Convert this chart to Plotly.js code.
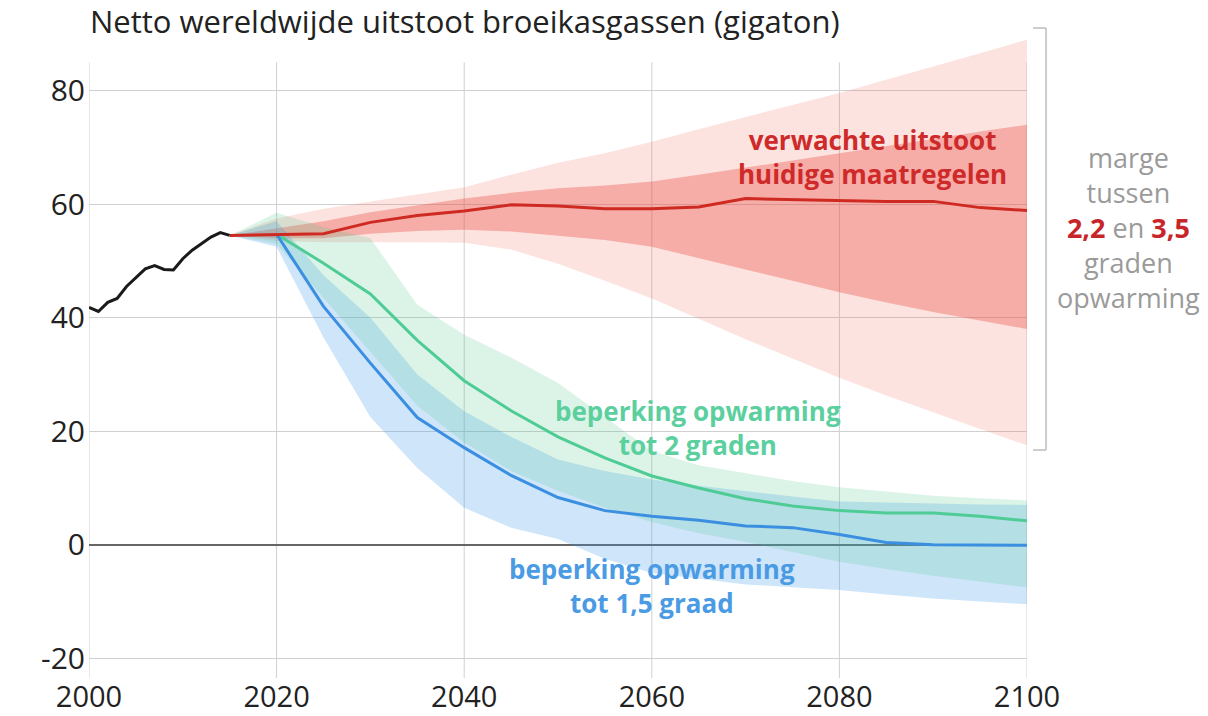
<!DOCTYPE html>
<html>
<head>
<meta charset="utf-8">
<script src="https://cdn.plot.ly/plotly-3.0.1.min.js"></script>
<style>
  html, body { margin: 0; padding: 0; background: #ffffff; }
  #chart { width: 1208px; height: 716px; }
</style>
</head>
<body>
<div id="chart"></div>
<script>
// ---------- data ----------
const histYears  = [2000, 2001, 2002, 2003, 2004, 2005, 2006, 2007, 2008, 2009, 2010, 2011, 2012, 2013, 2014, 2015];
const histValues = [41.8, 41.1, 42.7, 43.4, 45.5, 47.0, 48.6, 49.2, 48.5, 48.4, 50.4, 51.9, 53.1, 54.2, 55.0, 54.5];

const projYears = [2015, 2020, 2025, 2030, 2035, 2040, 2045, 2050, 2055, 2060, 2065, 2070, 2075, 2080, 2085, 2090, 2095, 2100];

// current policies (verwachte uitstoot huidige maatregelen)
const currentMedian     = [54.5, 54.7, 54.8, 56.8, 58.0, 58.8, 59.9, 59.7, 59.2, 59.2, 59.5, 61.0, 60.8, 60.6, 60.5, 60.5, 59.4, 58.9];
const currentInnerUpper = [54.5, 55.8, 57.0, 58.6, 59.8, 61.0, 62.0, 62.8, 63.3, 64.0, 65.2, 66.4, 67.7, 69.0, 70.2, 71.5, 72.8, 74.0];
const currentInnerLower = [54.5, 54.0, 54.0, 54.8, 55.3, 55.5, 55.2, 54.5, 53.7, 52.5, 50.6, 48.5, 46.5, 44.5, 42.7, 41.0, 39.5, 38.0];
const currentOuterUpper = [54.5, 57.5, 59.2, 60.5, 61.7, 63.0, 65.2, 67.3, 69.0, 71.0, 73.2, 75.4, 77.5, 79.6, 81.9, 84.2, 86.6, 89.0];
const currentOuterLower = [54.5, 53.5, 53.3, 53.3, 53.3, 53.2, 52.0, 49.5, 46.5, 43.4, 39.8, 36.2, 32.8, 29.4, 26.3, 23.3, 20.4, 17.5];

// 2 degrees pathway
const twoDegMedian = [null, 54.7, 49.6, 44.2, 36.0, 28.9, 23.6, 19.0, 15.3, 12.1, 10.0, 8.1, 6.8, 6.0, 5.6, 5.6, 5.0, 4.2];
const twoDegUpper  = [54.5, 58.5, 56.0, 54.0, 42.3, 37.0, 33.0, 28.5, 22.5, 16.5, 14.0, 12.6, 11.2, 10.1, 9.3, 8.6, 8.2, 7.8];
const twoDegLower  = [54.5, 53.0, 43.5, 34.0, 24.5, 18.0, 13.0, 9.5, 6.5, 4.0, 2.0, 0.5, -1.3, -3.0, -4.3, -5.5, -6.5, -7.5];

// 1.5 degree pathway
const oneFiveMedian = [null, 54.7, 42.0, 32.0, 22.4, 17.1, 12.2, 8.3, 6.0, 5.0, 4.3, 3.3, 3.0, 1.8, 0.4, 0.0, 0.0, -0.1];
const oneFiveUpper  = [54.5, 57.0, 47.5, 40.0, 30.0, 23.5, 19.0, 15.0, 13.0, 11.5, 10.4, 9.4, 8.5, 7.6, 7.4, 7.2, 7.1, 7.0];
const oneFiveLower  = [54.5, 52.5, 36.5, 22.5, 13.5, 6.5, 3.0, 1.0, -2.5, -5.0, -6.0, -7.0, -7.5, -8.0, -8.8, -9.5, -10.0, -10.5];

const xTickVals = [2000, 2020, 2040, 2060, 2080, 2100];
const yTickVals = [-20, 0, 20, 40, 60, 80];

// ---------- helpers ----------
function band(upper, lower, color) {
  return {
    type: 'scatter', mode: 'lines',
    x: projYears.concat(projYears.slice().reverse()),
    y: upper.concat(lower.slice().reverse()),
    fill: 'toself', fillcolor: color,
    line: { width: 0, color: 'rgba(0,0,0,0)' },
    hoverinfo: 'skip', showlegend: false
  };
}
function line(x, y, color, width) {
  return {
    type: 'scatter', mode: 'lines', x: x, y: y,
    line: { color: color, width: width, shape: 'linear' },
    hoverinfo: 'skip', showlegend: false
  };
}

const FONT = 'Open Sans, Lato, sans-serif';
const RED = '#cf2a22';
const GREEN = '#4fcc96';
const BLUE = '#3b8fe0';
const Y_MIN = -23.5, Y_MAX = 90, GRID_TOP = 85;

const traces = [
  band(currentOuterUpper, currentOuterLower, 'rgba(240,100,85,0.18)'),
  band(currentInnerUpper, currentInnerLower, 'rgba(235,70,60,0.34)'),
  band(oneFiveUpper, oneFiveLower, 'rgba(60,150,235,0.25)'),
  band(twoDegUpper, twoDegLower, 'rgba(80,200,140,0.20)'),
  line(projYears, twoDegMedian, GREEN, 3),
  line(projYears, oneFiveMedian, BLUE, 3),
  line(projYears, currentMedian, RED, 3),
  line(histYears, histValues, '#1a1a1a', 3)
];

// vertical gridlines (stop below the top of the plot area, like the original)
const gridShapes = xTickVals.map(v => ({
  type: 'line', xref: 'x', yref: 'y', layer: 'below',
  x0: v, x1: v, y0: Y_MIN, y1: GRID_TOP,
  line: { color: '#d0d0d0', width: 1 }
}));

const bracket = [
  { type: 'line', xref: 'paper', yref: 'paper', x0: 1.0203, x1: 1.0203, y0: 0.354, y1: 1.0093,
    line: { color: '#bdbdbd', width: 1.5 } },
  { type: 'line', xref: 'paper', yref: 'paper', x0: 1.0064, x1: 1.0203, y0: 1.0093, y1: 1.0093,
    line: { color: '#bdbdbd', width: 1.5 } },
  { type: 'line', xref: 'paper', yref: 'paper', x0: 1.0064, x1: 1.0203, y0: 0.354, y1: 0.354,
    line: { color: '#bdbdbd', width: 1.5 } }
];

const layout = {
  width: 1208, height: 716,
  margin: { l: 89, r: 181, t: 34, b: 38 },
  paper_bgcolor: '#ffffff', plot_bgcolor: '#ffffff',
  font: { family: FONT, color: '#222222' },
  showlegend: false,
  title: {
    text: 'Netto wereldwijde uitstoot broeikasgassen (gigaton)',
    font: { family: FONT, size: 31, color: '#222222' },
    xref: 'container', yref: 'container',
    x: 90 / 1208, xanchor: 'left',
    y: 1 - 22 / 716, yanchor: 'middle'
  },
  xaxis: {
    range: [2000, 2100],
    tickvals: xTickVals,
    ticktext: xTickVals.map(String),
    showgrid: false,
    zeroline: false, showline: false,
    ticks: '', ticklabelstandoff: -1,
    tickfont: { family: FONT, size: 29, color: '#222222' },
    fixedrange: true
  },
  yaxis: {
    range: [Y_MIN, Y_MAX],
    tickvals: yTickVals,
    ticktext: yTickVals.map(String),
    showgrid: true, gridcolor: '#d0d0d0', gridwidth: 1,
    zeroline: true, zerolinecolor: '#666666', zerolinewidth: 2,
    showline: false,
    ticks: '', ticklabelstandoff: 3,
    tickfont: { family: FONT, size: 30, color: '#222222' },
    fixedrange: true
  },
  shapes: gridShapes.concat(bracket),
  annotations: [
    { x: 2083.5, y: 68.4, xref: 'x', yref: 'y', showarrow: false, align: 'center',
      text: '<b>verwachte uitstoot<br>huidige maatregelen</b>',
      font: { family: FONT, size: 26, color: '#cf2a2a' } },
    { x: 2064.9, y: 20.6, xref: 'x', yref: 'y', showarrow: false, align: 'center',
      text: '<b>beperking opwarming<br>tot 2 graden</b>',
      font: { family: FONT, size: 26, color: '#5ccf9f' } },
    { x: 2060.0, y: -7.2, xref: 'x', yref: 'y', showarrow: false, align: 'center',
      text: '<b>beperking opwarming<br>tot 1,5 graad</b>',
      font: { family: FONT, size: 26, color: '#4a9be3' } },
    { x: 1.1077, y: 0.7, xref: 'paper', yref: 'paper', showarrow: false, align: 'center',
      xanchor: 'center', yanchor: 'middle',
      text: 'marge<br>tussen<br><b><span style="color:#c8252a">2,2</span></b> en <b><span style="color:#c8252a">3,5</span></b><br>graden<br>opwarming',
      font: { family: FONT, size: 27, color: '#9a9a9a' } }
  ]
};

Plotly.newPlot('chart', traces, layout, { displayModeBar: false, staticPlot: true });
</script>
</body>
</html>
